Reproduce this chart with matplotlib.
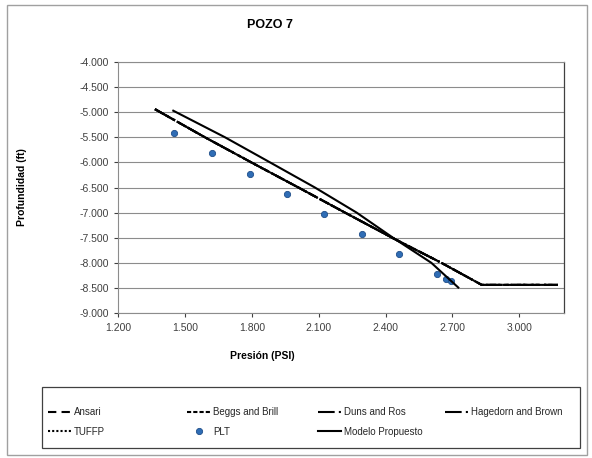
import matplotlib.pyplot as plt
from matplotlib.ticker import FuncFormatter, MultipleLocator
from matplotlib.patches import Rectangle

plt.rcParams['font.family'] = ['Liberation Sans', 'DejaVu Sans']

# datos (presion en psi, profundidad en ft)
# las cinco correlaciones quedan practicamente una encima de otra
p_ansari = [1366, 1590, 1798, 2009, 2218, 2429, 2650, 2831, 3173]
d_ansari = [-4940, -5500, -6000, -6500, -7000, -7500, -8000, -8440, -8440]
p_beggs = [1366, 1590, 1798, 2009, 2218, 2429, 2650, 2831, 3173]
d_beggs = [-4940, -5500, -6000, -6500, -7000, -7500, -8000, -8440, -8440]
p_duns = [1366, 1590, 1798, 2009, 2218, 2429, 2650, 2831, 3173]
d_duns = [-4940, -5500, -6000, -6500, -7000, -7500, -8000, -8440, -8440]
p_hagedorn = [1366, 1590, 1798, 2009, 2218, 2429, 2650, 2831, 3173]
d_hagedorn = [-4940, -5500, -6000, -6500, -7000, -7500, -8000, -8440, -8440]
p_tuffp = [1366, 1590, 1798, 2009, 2218, 2429, 2650, 2831, 3173]
d_tuffp = [-4940, -5500, -6000, -6500, -7000, -7500, -8000, -8440, -8440]

p_modelo = [1448, 1680, 1882, 2083, 2270, 2433, 2605, 2726]
d_modelo = [-4970, -5500, -6000, -6500, -7000, -7500, -8000, -8493]

p_plt = [1450, 1620, 1790, 1960, 2125, 2295, 2460, 2630, 2670, 2695]
d_plt = [-5420, -5815, -6225, -6625, -7020, -7425, -7825, -8220, -8325, -8370]


def miles(v, pos):
    return '{:,.0f}'.format(v).replace(',', '.')


fig = plt.figure(figsize=(5.92, 4.58), dpi=100)
ax = fig.add_axes([0.1993, 0.3166, 0.7534, 0.548])

lw = 1.5
l1, = ax.plot(p_ansari, d_ansari, color='black', lw=lw, linestyle=(0, (4, 2.5)))
l2, = ax.plot(p_beggs, d_beggs, color='black', lw=lw, linestyle=(0, (2, 1)))
l3, = ax.plot(p_duns, d_duns, color='black', lw=lw, linestyle=(0, (8, 2, 1, 2, 1, 2)))
l4, = ax.plot(p_hagedorn, d_hagedorn, color='black', lw=lw, linestyle=(0, (8, 2, 1, 2, 3, 2)))
l5, = ax.plot(p_tuffp, d_tuffp, color='black', lw=lw, linestyle=(0, (1, 1)))
l6, = ax.plot(p_plt, d_plt, linestyle='none', marker='o', markersize=4.5,
              markerfacecolor='#2F6DB5', markeredgecolor='#1F4E8A', markeredgewidth=0.6)
l7, = ax.plot(p_modelo, d_modelo, color='black', lw=lw, linestyle='-')

ax.set_xlim(1200, 3200)
ax.set_ylim(-9000, -4000)
ax.xaxis.set_major_locator(MultipleLocator(300))
ax.yaxis.set_major_locator(MultipleLocator(500))
ax.xaxis.set_major_formatter(FuncFormatter(miles))
ax.yaxis.set_major_formatter(FuncFormatter(miles))
ax.grid(axis='y', color='#8c8c8c', lw=0.8)
ax.set_axisbelow(True)
for s in ['left', 'bottom', 'top']:
    ax.spines[s].set_color('#8c8c8c')
    ax.spines[s].set_linewidth(0.8)
ax.spines['right'].set_color('#404040')
ax.spines['right'].set_linewidth(0.9)
ax.tick_params(labelsize=7.5, colors='#404040', length=3, width=0.8, direction='out')
ax.tick_params(axis='x', pad=4)

fig.text(0.443, 1 - 356 / 458, 'Presión (PSI)', ha='center', va='center',
         fontsize=7.5, fontweight='bold')
fig.text(0.037, 1 - 187 / 458, 'Profundidad (ft)', ha='center', va='center',
         rotation=90, fontsize=7.5, fontweight='bold')
fig.text(0.456, 0.945, 'POZO 7', ha='center', va='center', fontsize=9, fontweight='bold')

# leyenda: recuadro y cuatro columnas
fig.patches.append(Rectangle((0.071, 0.0218), 0.909, 0.133, transform=fig.transFigure,
                             fill=False, edgecolor='#404040', lw=0.9))
columnas = [
    ([l1, l5], ['Ansari', 'TUFFP'], 48),
    ([l2, l6], ['Beggs and Brill', 'PLT'], 187),
    ([l3, l7], ['Duns and Ros', 'Modelo Propuesto'], 318),
    ([l4], ['Hagedorn and Brown'], 445),
]
for hs, ls, xpx in columnas:
    ypx = 422 if len(hs) == 2 else 412
    lg = fig.legend(hs, ls, loc='center left', bbox_to_anchor=(xpx / 592, 1 - ypx / 458),
                    fontsize=7, frameon=False, handlelength=2.4, handletextpad=0.3,
                    borderpad=0, borderaxespad=0, labelspacing=1.0, labelcolor='#262626')

fig.patches.append(Rectangle((0.011, 0.006), 0.98, 0.983, transform=fig.transFigure,
                             fill=False, edgecolor='#a0a0a0', lw=1))

fig.savefig('out.png', dpi=100)
